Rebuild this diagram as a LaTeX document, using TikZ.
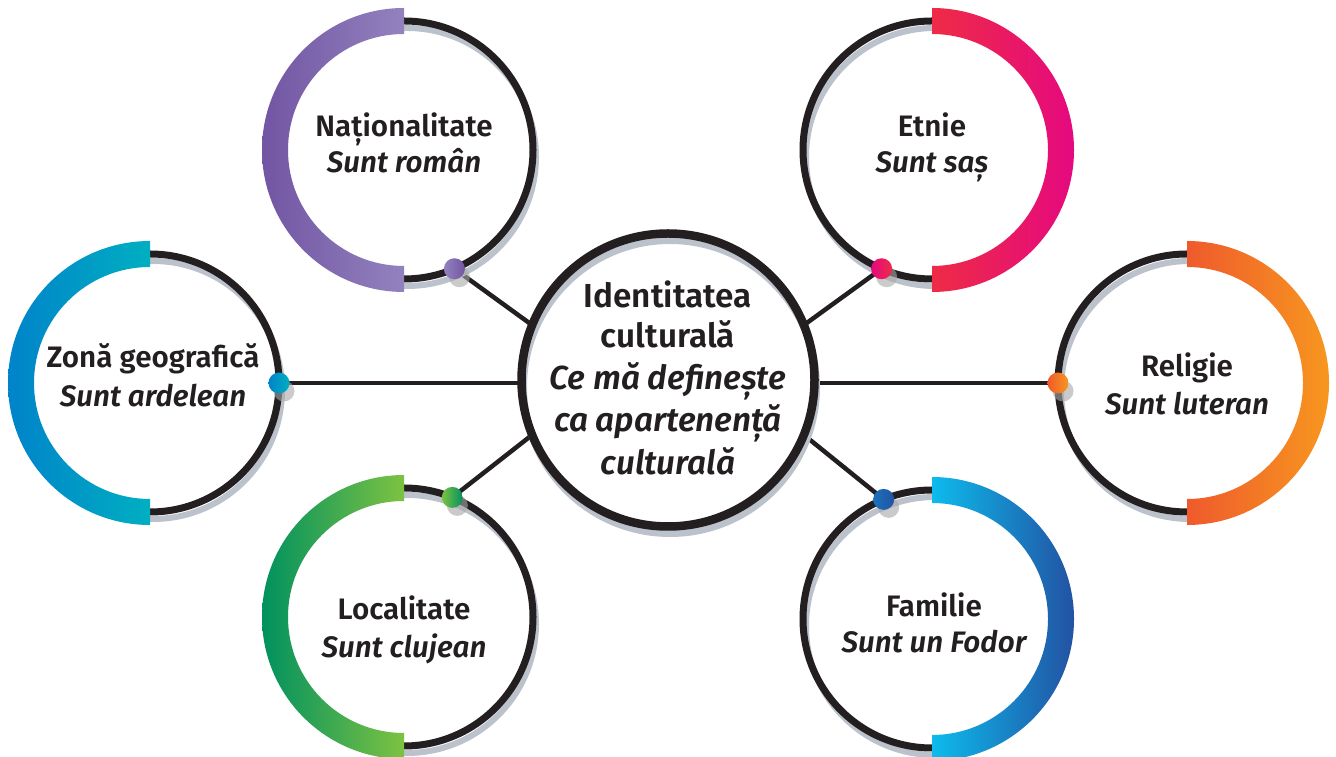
\documentclass[tikz,border=0pt]{standalone}
\usepackage{fontspec}
\setmainfont{Fira Sans}[BoldFont={Fira Sans SemiBold},BoldItalicFont={Fira Sans SemiBold Italic}]
\definecolor{ink}{HTML}{231F20}
\definecolor{shadowgray}{HTML}{BCC2CB}
\definecolor{dotgray}{HTML}{A8A8A8}
\definecolor{purA}{HTML}{7255A3}\definecolor{purB}{HTML}{9282BE}
\definecolor{redA}{HTML}{EE2B46}\definecolor{redB}{HTML}{E5097F}
\definecolor{bluA}{HTML}{0083CA}\definecolor{bluB}{HTML}{00AFC1}
\definecolor{oraA}{HTML}{EF5A2C}\definecolor{oraB}{HTML}{F7971F}
\definecolor{grnA}{HTML}{00915F}\definecolor{grnB}{HTML}{7DC242}
\definecolor{famA}{HTML}{0DBBEC}\definecolor{famB}{HTML}{2252A3}
\pgfdeclarelayer{bg}
\pgfsetlayers{bg,main}
\newcommand\mkcircle[6]{%
  \fill[white] (#2,#3) circle (129);
  \draw[shadowring] (#2+3,#3-7) circle (129);
  \node[ring] (#1) at (#2,#3) {};
  \shade[left color=#5, right color=#6] ([shift={(0,142)}]#1.center)
    arc[start angle=90, end angle=#4, radius=142] -- ++(0,26)
    arc[start angle=#4, end angle=90, radius=116] -- cycle;
}
\newcommand\mkdot[5]{%
  \fill[dotshadow] ([shift={(#3:129)}]#2.center) ++(5,-8) circle (10.5);
  \node[dotnode, left color=#4, right color=#5] (#1) at ([shift={(#3:129)}]#2.center) {};
}
\begin{document}
\begin{tikzpicture}[x=1pt,y=1pt,
  ring/.style={circle, draw=ink, line width=7pt, minimum size=258pt, inner sep=0pt, outer sep=0pt},
  hub/.style={circle, draw=ink, line width=8.5pt, minimum size=293pt, inner sep=0pt, outer sep=0pt},
  conn/.style={draw=ink, line width=4.5pt},
  shadowring/.style={draw=shadowgray, line width=6pt},
  dotnode/.style={circle, minimum size=21pt, inner sep=0pt, outer sep=0pt},
  dotshadow/.style={fill=dotgray, opacity=0.6},
  ttl/.style={font=\fontsize{29.6}{36}\selectfont\bfseries, anchor=base, text=ink, inner sep=0pt},
  sub/.style={font=\fontsize{29.6}{36}\selectfont\bfseries\itshape, anchor=base, text=ink, inner sep=0pt},
  ttlc/.style={font=\fontsize{33.3}{40}\selectfont\bfseries, anchor=base, text=ink, inner sep=0pt},
  subc/.style={font=\fontsize{33.3}{40}\selectfont\bfseries\itshape, anchor=base, text=ink, inner sep=0pt}]
\useasboundingbox (0,0) rectangle (1336,757);
% central circle
\fill[white] (668,377) circle (147);
\draw[shadowring, line width=7pt] (670,370) circle (146.5);
\node[hub] (C) at (668,377) {};
% outer circles
\mkcircle{N}{404}{607}{270}{purA}{purB}
\mkcircle{E}{932}{607}{-90}{redA}{redB}
\mkcircle{Z}{150}{374}{270}{bluA}{bluB}
\mkcircle{R}{1187}{374}{-90}{oraA}{oraB}
\mkcircle{L}{404}{140}{270}{grnA}{grnB}
\mkcircle{F}{932}{138}{-90}{famA}{famB}
% dots
\mkdot{dN}{N}{-67}{purB}{purA}
\mkdot{dE}{E}{-113}{redB}{redA}
\mkdot{dZ}{Z}{0}{bluA}{bluB}
\mkdot{dR}{R}{180}{oraA}{oraB}
\mkdot{dL}{L}{68}{grnB}{grnA}
\mkdot{dF}{F}{112}{famB!70!famA}{famB}
% connectors
\begin{pgfonlayer}{bg}
\draw[conn] (dN.center) -- (C.158);
\draw[conn] (dE.center) -- (C.22);
\draw[conn] (dZ.center) -- (C.west |- dZ.center);
\draw[conn] (dR.center) -- (C.east |- dR.center);
\draw[conn] (dL.center) -- (C.202);
\draw[conn] (dF.center) -- (C.-22);
\end{pgfonlayer}
% texts
\node[ttlc] (C1) at (668,449) {Identitatea};
\node[ttlc] (C2) at (668,409) {culturală};
\node[subc] (C3) at (668,367) {Ce mă definește};
\node[subc] (C4) at (668,325) {ca apartenență};
\node[subc] (C5) at (668,282) {culturală};
\node[ttl] (Nt) at (404,620) {Naționalitate};
\node[sub] (Ns) at (404,584) {Sunt român};
\node[ttl] (Et) at (932,620) {Etnie};
\node[sub] (Es) at (932,584) {Sunt saș};
\node[ttl] (Zt) at (153,389) {Zonă geografică};
\node[sub] (Zs) at (153,350) {Sunt ardelean};
\node[ttl] (Rt) at (1187,380) {Religie};
\node[sub] (Rs) at (1187,342) {Sunt luteran};
\node[ttl] (Lt) at (404,137) {Localitate};
\node[sub] (Ls) at (404,99) {Sunt clujean};
\node[ttl] (Ft) at (934,140) {Familie};
\node[sub] (Fs) at (934,104) {Sunt un Fodor};
\end{tikzpicture}
\end{document}
